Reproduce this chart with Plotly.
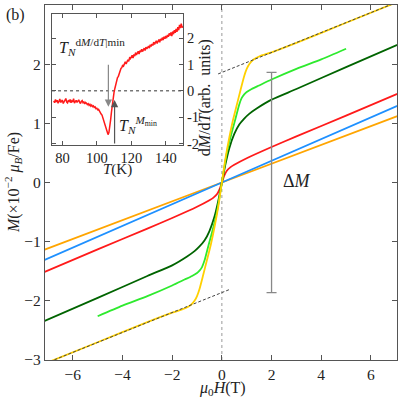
import numpy as np
import plotly.graph_objects as go

# main panel: M(H) loops, H in T, M in 1e-2 muB/Fe
H_lin = [-7.3, 0.0, 7.3]
M_orange = [-1.16, 0.0, 1.16]
M_blue = [-1.34, 0.0, 1.34]

H_red = [-7.3, -5, -3, -2, -1, -0.5, -0.35, -0.2, -0.1, 0, 0.1, 0.2, 0.35, 0.5, 1, 2, 3, 5, 7.3]
M_red = [-1.54, -1.13, -0.78, -0.6, -0.41, -0.3, -0.26, -0.2, -0.12, 0,
         0.12, 0.2, 0.26, 0.3, 0.41, 0.6, 0.78, 1.13, 1.54]

H_dkgreen = [-7.3, -5, -3, -2, -1.4, -1.1, -0.9, -0.7, -0.5, -0.3, -0.15, 0,
             0.15, 0.3, 0.5, 0.7, 0.9, 1.1, 1.4, 2, 3, 5, 7.3]
M_dkgreen = [-2.37, -1.95, -1.58, -1.4, -1.25, -1.16, -1.08, -0.98, -0.82, -0.58, -0.32, 0,
             0.32, 0.58, 0.82, 0.98, 1.08, 1.16, 1.25, 1.4, 1.58, 1.95, 2.37]

H_lime = [-5, -4, -3, -2, -1.5, -1.2, -1.0, -0.9, -0.8, -0.7, -0.55, -0.4, -0.2, 0,
          0.2, 0.4, 0.55, 0.7, 0.8, 0.9, 1.0, 1.2, 1.5, 2, 3, 4, 5]
M_lime = [-2.26, -2.08, -1.92, -1.74, -1.64, -1.58, -1.53, -1.49, -1.43, -1.32, -1.08, -0.85, -0.5, 0,
          0.5, 0.85, 1.08, 1.32, 1.43, 1.49, 1.53, 1.58, 1.64, 1.74, 1.92, 2.08, 2.26]

H_yellow = [-7.3, -5, -3, -2, -1.5, -1.25, -1.1, -1.0, -0.9, -0.75, -0.6, -0.45, -0.3, -0.15, 0,
            0.15, 0.3, 0.45, 0.6, 0.75, 0.9, 1.0, 1.1, 1.25, 1.5, 2, 3, 5, 7.3]
M_yellow = [-3.09, -2.7, -2.36, -2.2, -2.13, -2.07, -2.0, -1.92, -1.8, -1.56, -1.31, -1.06, -0.76, -0.42, 0,
            0.42, 0.76, 1.06, 1.31, 1.56, 1.8, 1.92, 2.0, 2.07, 2.13, 2.2, 2.36, 2.7, 3.09]

# linear high-field extrapolations of the yellow loop
H_ext_up = [-0.15, 7.3]
M_ext_up = [1.835, 3.09]
H_ext_dn = [-7.3, 0.3]
M_ext_dn = [-3.09, -1.81]

dM_H = 2.0
dM_half = 1.86

# inset: dM/dT vs T
T_inset = np.arange(75.0, 150.25, 0.5)
dMdT = [-0.38, -0.45, -0.33, -0.42, -0.36, -0.47, -0.40, -0.31, -0.44, -0.39,
        -0.35, -0.48, -0.41, -0.37, -0.29, -0.43, -0.46, -0.36, -0.40, -0.33,
        -0.45, -0.38, -0.42, -0.30, -0.47, -0.41, -0.36, -0.44, -0.39, -0.34,
        -0.43, -0.48, -0.40, -0.37, -0.45, -0.42, -0.50, -0.44, -0.47, -0.52,
        -0.49, -0.55, -0.51, -0.58, -0.54, -0.60, -0.57, -0.63, -0.61, -0.68,
        -0.66, -0.72, -0.70, -0.78, -0.80, -0.88, -0.92, -1.02, -1.10, -1.22,
        -1.30, -1.45, -1.55, -1.66, -1.58, -1.40, -1.10, -0.80, -0.50, -0.25,
        -0.05, 0.10, 0.25, 0.35, 0.50, 0.55, 0.68, 0.72, 0.85, 0.88,
        0.98, 0.94, 1.05, 1.10, 1.02, 1.15, 1.18, 1.12, 1.25, 1.22,
        1.28, 1.35, 1.24, 1.38, 1.32, 1.45, 1.36, 1.42, 1.50, 1.40,
        1.52, 1.47, 1.58, 1.49, 1.55, 1.62, 1.53, 1.66, 1.59, 1.64,
        1.70, 1.62, 1.75, 1.68, 1.78, 1.72, 1.85, 1.76, 1.82, 1.90,
        1.80, 1.88, 1.95, 1.84, 1.97, 1.91, 2.02, 1.93, 2.05, 1.98,
        2.08, 2.00, 2.12, 2.05, 2.18, 2.10, 2.22, 2.08, 2.25, 2.15,
        2.30, 2.20, 2.35, 2.24, 2.42, 2.30, 2.50, 2.38, 2.55, 2.40, 2.45]

x_ticks = [-6, -4, -2, 0, 2, 4, 6]
y_ticks = [-3, -2, -1, 0, 1, 2, 3]
inset_x_ticks = [80, 100, 120, 140]
inset_y_ticks = [-2, -1, 0, 1, 2]

def minus(v):
    return str(v).replace("-", "−")

FONT = "Liberation Serif"
AX = "#555555"

fig = go.Figure()

# zero-field guide
fig.add_trace(go.Scatter(x=[0, 0], y=[-3, 3], mode="lines",
                         line=dict(color="#999999", width=1, dash="dot"), hoverinfo="skip"))

curves = [
    (H_lin, M_orange, "#FFA500"),
    (H_lin, M_blue, "#1E90FF"),
    (H_red, M_red, "#FF1A1A"),
    (H_dkgreen, M_dkgreen, "#006400"),
    (H_lime, M_lime, "#2EEA2E"),
    (H_yellow, M_yellow, "#FFD000"),
]
for hx, my, col in curves:
    fig.add_trace(go.Scatter(x=hx, y=my, mode="lines", line=dict(color=col, width=1.8, shape="spline", smoothing=0.6)))

for hx, my in [(H_ext_up, M_ext_up), (H_ext_dn, M_ext_dn)]:
    fig.add_trace(go.Scatter(x=hx, y=my, mode="lines",
                             line=dict(color="#444444", width=1, dash="3px,2px")))

# Delta M bar
fig.add_trace(go.Scatter(x=[dM_H], y=[0], mode="markers", marker=dict(size=1, color="rgba(0,0,0,0)"),
                         error_y=dict(type="data", array=[dM_half], color="#888888", thickness=1.3, width=5)))

# inset
fig.add_trace(go.Scatter(x=[74, 150], y=[0, 0], mode="lines", xaxis="x2", yaxis="y2",
                         line=dict(color="#333333", width=1, dash="dot")))
fig.add_trace(go.Scatter(x=T_inset, y=dMdT, mode="lines", xaxis="x2", yaxis="y2",
                         line=dict(color="#FF1A1A", width=1.5)))

axis_common = dict(showgrid=False, zeroline=False, showline=True, linecolor=AX, linewidth=1.2,
                   mirror="allticks", ticks="inside", ticklen=5, tickcolor=AX,
                   tickfont=dict(family=FONT, size=15.5, color="#222222"))
inset_axis = {**axis_common, "tickfont": dict(family=FONT, size=14.5, color="#222222"), "ticklen": 4}

fig.update_layout(
    width=399, height=399,
    margin=dict(l=45, r=2, t=5, b=39),
    plot_bgcolor="white", paper_bgcolor="white",
    showlegend=False,
    xaxis=dict(range=[-7.12, 7.05], tickvals=x_ticks, ticktext=[minus(v) for v in x_ticks], **axis_common),
    yaxis=dict(range=[-3, 3], tickvals=y_ticks, ticktext=[minus(v) for v in y_ticks], **axis_common),
    xaxis2=dict(domain=[0.02, 0.392], anchor="y2", range=[74, 150], tickvals=inset_x_ticks, **inset_axis),
    yaxis2=dict(domain=[0.606, 0.975], anchor="x2", side="right", range=[-2.05, 2.92],
                tickvals=inset_y_ticks, ticktext=[str(v) for v in inset_y_ticks], **inset_axis),
)

tf = dict(family=FONT, size=16, color="#222222")

def label(text, x, y, ref="paper", **kw):
    xr, yr = (ref, ref) if ref == "paper" else ref
    fig.add_annotation(text=text, x=x, y=y, xref=xr, yref=yr, showarrow=False,
                       xanchor="center", yanchor="middle", font=kw.pop("font", tf), **kw)

label("(b)", -0.085, 0.972)
label("<i>M</i>(×10<sup>−2</sup> <i>μ<sub>B</sub></i>/Fe)", -0.092, 0.5, textangle=-90)
label("<i>μ</i><sub>0</sub><i>H</i>(T)", 0.503, -0.081)
label("Δ<i>M</i>", 3.03, 0.02, ref=("x", "y"), font=dict(family=FONT, size=18, color="#222222"))

# inset labels
label("d<i>M</i>/d<i>T</i>(arb.  units)", 0.455, 0.738, textangle=-90)
label("<i>T</i>(K)", 0.207, 0.536, font=dict(family=FONT, size=15, color="#222222"))
label("<i>T<sub>N</sub></i><sup>d<i>M</i>/d<i>T</i>|min</sup>", 97, 1.65, ref=("x2", "y2"))
label("<i>T<sub>N</sub></i><sup><i>M</i><sub>min</sub></sup>", 124, -1.3, ref=("x2", "y2"))
fig.add_annotation(x=106.7, y=-0.6, ax=106.7, ay=1.05, xref="x2", yref="y2", axref="x2", ayref="y2",
                   showarrow=True, arrowhead=2, arrowsize=1.2, arrowwidth=1.2, arrowcolor="#888888", text="")
fig.add_annotation(x=110.3, y=-0.35, ax=110.3, ay=-2.05, xref="x2", yref="y2", axref="x2", ayref="y2",
                   showarrow=True, arrowhead=2, arrowsize=1.2, arrowwidth=1.2, arrowcolor="#555555", text="")

# drop the page's default body margin so the figure sits at the window origin
fig.write_html("out.html", config={"displayModeBar": False},
               post_script="document.body.style.margin='0';")
